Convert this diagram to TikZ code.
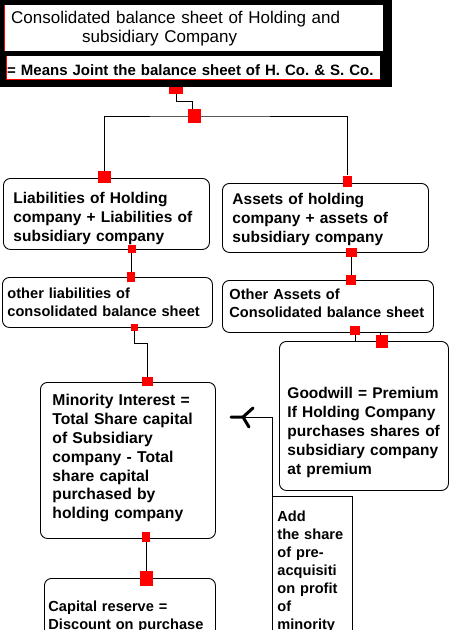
\documentclass[tikz,border=0pt]{standalone}
\usepackage{fontspec}
\setmainfont{Liberation Sans}
\usetikzlibrary{backgrounds}
\frenchspacing

\begin{document}
\begin{tikzpicture}[x=1pt, y=-1pt,
  sheet/.style={draw, line width=0.9pt, rounded corners=7pt, anchor=north west, align=left, inner ysep=0pt},
  bigtext/.style={font=\bfseries\fontsize{15.5}{19}\selectfont},
  smalltext/.style={font=\bfseries\fontsize{14.6}{18}\selectfont},
  pin/.style={fill=red, inner sep=0pt},
  link/.style={line width=0.9pt},
  fork/.style={line width=3pt, line cap=round}]
\useasboundingbox (0,0) rectangle (455,630);

% heading
\node[fill=black, anchor=north west, minimum width=392pt, minimum height=87pt, inner sep=0pt] (head) at (0,0) {};
\node[fill=white, anchor=north west, minimum width=379pt, minimum height=46pt, inner xsep=7pt, inner ysep=0pt,
  text width=365pt, align=left, font=\fontsize{17}{19}\selectfont] (title) at (4,5)
  {Consolidated balance sheet of Holding and\\\hspace*{71pt}subsidiary Company};
\node[fill=white, anchor=north west, minimum width=374pt, minimum height=23pt, inner xsep=1pt, inner ysep=0pt,
  text width=372pt, align=left, text height=16pt, font=\bfseries\fontsize{15}{18}\selectfont] (sub) at (6,56)
  {= Means Joint the balance sheet of H. Co. \& S. Co.};
\draw[red, line width=1pt] (title.north west) -- (title.south west);
\draw[red, line width=1pt] (sub.north west) -- (sub.south west) -- (sub.south east);

% boxes
\node[sheet, minimum width=206pt, minimum height=71pt, text width=186pt, inner xsep=10pt, text height=19.5pt, bigtext] (liab) at (3,178)
  {Liabilities of Holding\\company + Liabilities of\\subsidiary company};
\node[sheet, minimum width=206pt, minimum height=69pt, text width=186pt, inner xsep=10pt, text height=15pt, bigtext] (asset) at (222,183)
  {Assets of holding\\company + assets of\\subsidiary company};
\node[sheet, minimum width=210pt, minimum height=50pt, text width=200pt, inner xsep=5pt, smalltext] (olia) at (2,277)
  {other liabilities of\\consolidated balance sheet};
\node[sheet, minimum width=211pt, minimum height=52pt, text width=201pt, inner xsep=5pt, text height=5pt, smalltext] (oasset) at (222,280)
  {\hspace*{2pt}Other Assets of\\\hspace*{2pt}Consolidated balance sheet};
\node[sheet, minimum width=169pt, minimum height=149pt, text width=153pt, inner xsep=8pt, text height=45pt, bigtext] (gw) at (279,341)
  {Goodwill = Premium\\If Holding Company\\purchases shares of\\subsidiary company\\at premium};
\node[sheet, minimum width=175pt, minimum height=156pt, text width=151pt, inner xsep=12pt, text height=7pt,
  font=\bfseries\fontsize{15.7}{18.8}\selectfont] (minor) at (40,382)
  {Minority Interest =\\Total Share capital\\of Subsidiary\\company - Total\\share capital\\purchased by\\holding company};
\node[sheet, minimum width=171pt, text width=163pt, inner xsep=4pt, inner ysep=22pt, smalltext] (capres) at (44,578)
  {Capital reserve =\\Discount on purchase};
\node[draw, line width=0.9pt, anchor=north west, align=left, minimum width=80pt, text width=70pt,
  inner xsep=5pt, inner ysep=14.5pt, smalltext] (addshare) at (272,496)
  {Add\\the share\\of pre-\\acquisiti\\on profit\\of\\minority};

% red joints
\node[pin, minimum width=14pt, minimum height=7pt] (ph) at (176,90) {};
\node[pin, minimum width=13pt, minimum height=14pt] (pj) at (194.5,116) {};
\node[pin, minimum width=13pt, minimum height=12pt] (pl1) at (104.5,177) {};
\node[pin, minimum width=9pt, minimum height=11pt] (pa1) at (347.5,181) {};
\node[pin, minimum width=8pt, minimum height=8pt] (pl2) at (131.5,249) {};
\node[pin, minimum width=8pt, minimum height=10pt] (pl3) at (131,277) {};
\node[pin, minimum width=11pt, minimum height=9pt] (pa2) at (351,252.5) {};
\node[pin, minimum width=10pt, minimum height=10pt] (pa3) at (351,280) {};
\node[pin, minimum width=7pt, minimum height=7pt] (pl4) at (134.5,327.5) {};
\node[pin, minimum width=10pt, minimum height=9pt] (pa4) at (355,330.5) {};
\node[pin, minimum width=12pt, minimum height=13pt] (pa5) at (382,341.5) {};
\node[pin, minimum width=11pt, minimum height=9pt] (pl5) at (147.5,381.5) {};
\node[pin, minimum width=8pt, minimum height=10pt] (pm1) at (146,537) {};
\node[pin, minimum width=13pt, minimum height=15pt] (pm2) at (146,578.5) {};

% connectors
\coordinate (fk) at (243,417);
\begin{pgfonlayer}{background}
\draw[link] (ph.south) -- ++(0,8) -| ([xshift=-2.5pt]pj.north);
\draw[link] (pl1.north) |- (pj.center) -| (pa1.north);
\draw[link] (pl2.south) -- (pl2.south |- pl3.north);
\draw[link] (pa2.south) -- (pa3.north);
\draw[link] (pl4.south) -- ++(0,12) -| (pl5.north);
\draw[link] (pa4.south) -- (pa4.south |- gw.north);
\draw[link] ([xshift=-2pt]pa5.north) -- ([xshift=-2pt]pa5.north |- oasset.south);
\draw[link] (pm1.south) -- (pm2.north);
\draw[link] (fk) -| (addshare.north west);
\end{pgfonlayer}
\draw[fork] (fk) -- ++(-12,0) (fk) -- ++(10,-9) (fk) -- ++(6,10);

\end{tikzpicture}
\end{document}
